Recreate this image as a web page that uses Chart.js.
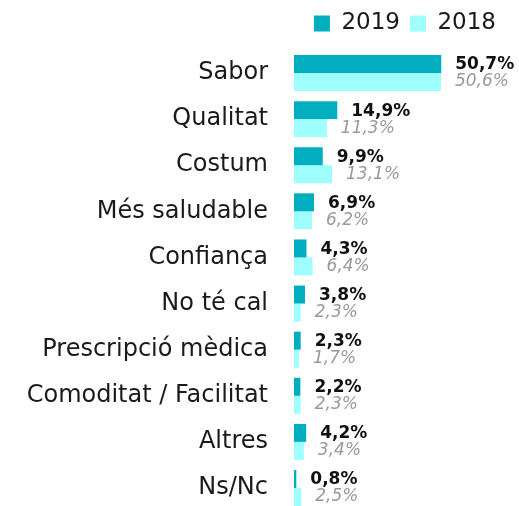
<!DOCTYPE html>
<html>
<head>
<meta charset="utf-8">
<script src="https://cdn.jsdelivr.net/npm/chart.js@4"></script>
<style>
  html, body { margin: 0; padding: 0; background: #fff; }
  #wrap { width: 519px; height: 506px; }
</style>
</head>
<body>
<div id="wrap"><canvas id="chart"></canvas></div>
<script>
const categories = ['Sabor', 'Qualitat', 'Costum', 'Més saludable', 'Confiança', 'No té cal',
    'Prescripció mèdica', 'Comoditat / Facilitat', 'Altres', 'Ns/Nc'];
const values2019 = [50.7, 14.9, 9.9, 6.9, 4.3, 3.8, 2.3, 2.2, 4.2, 0.8];
const values2018 = [50.6, 11.3, 13.1, 6.2, 6.4, 2.3, 1.7, 2.3, 3.4, 2.5];
const seriesNames = ['2019', '2018'];

const FONT = '"DejaVu Sans", sans-serif';

// percentage labels at the end of each bar
const valueLabels = {
    id: 'valueLabels',
    afterDatasetsDraw(chart) {
        const ctx = chart.ctx;
        chart.data.datasets.forEach((ds, i) => {
            const meta = chart.getDatasetMeta(i);
            ctx.save();
            ctx.font = (i === 0 ? 'bold ' : 'italic ') + '17px ' + FONT;
            ctx.fillStyle = i === 0 ? '#111111' : '#999999';
            ctx.textBaseline = 'middle';
            meta.data.forEach((bar, j) => {
                const txt = ds.data[j].toFixed(1).replace('.', ',') + '%';
                ctx.fillText(txt, bar.x + 14, bar.y + (i === 0 ? 1 : 0));
            });
            ctx.restore();
        });
    }
};

// extra room under the legend
const legendGap = {
    id: 'legendGap',
    beforeInit(chart) {
        if (!chart.legend) return;
        const fit = chart.legend.fit;
        chart.legend.fit = function () {
            fit.call(this);
            this.height += 28;
        };
    }
};

const ctx = document.getElementById('chart').getContext('2d');
new Chart(ctx, {
    type: 'bar',
    data: {
        labels: categories,
        datasets: [{
            label: seriesNames[0],
            data: values2019,
            backgroundColor: '#00AFBF',
            clip: false
        }, {
            label: seriesNames[1],
            data: values2018,
            backgroundColor: '#9FFFFF',
            clip: false
        }]
    },
    options: {
        indexAxis: 'y',
        responsive: true,
        maintainAspectRatio: false,
        animation: false,
        layout: { padding: { top: 2, right: 13, bottom: 18, left: 0 } },
        datasets: { bar: { categoryPercentage: 0.78, barPercentage: 1 } },
        plugins: {
            legend: {
                position: 'top',
                align: 'end',
                labels: {
                    boxWidth: 16,
                    boxHeight: 16,
                    padding: 10,
                    color: '#1a1a1a',
                    font: { family: FONT, size: 23 }
                }
            },
            tooltip: { enabled: false }
        },
        scales: {
            x: { display: false, min: 0, max: 73 },
            y: {
                offset: false,
                grid: { display: false },
                border: { display: false },
                ticks: {
                    padding: 18,
                    color: '#1a1a1a',
                    font: { family: FONT, size: 24 }
                },
                afterFit(scale) {
                    scale.width = 294;
                    scale.paddingTop = 0;
                    scale.paddingBottom = 0;
                }
            }
        }
    },
    plugins: [legendGap, valueLabels]
});
</script>
</body>
</html>
